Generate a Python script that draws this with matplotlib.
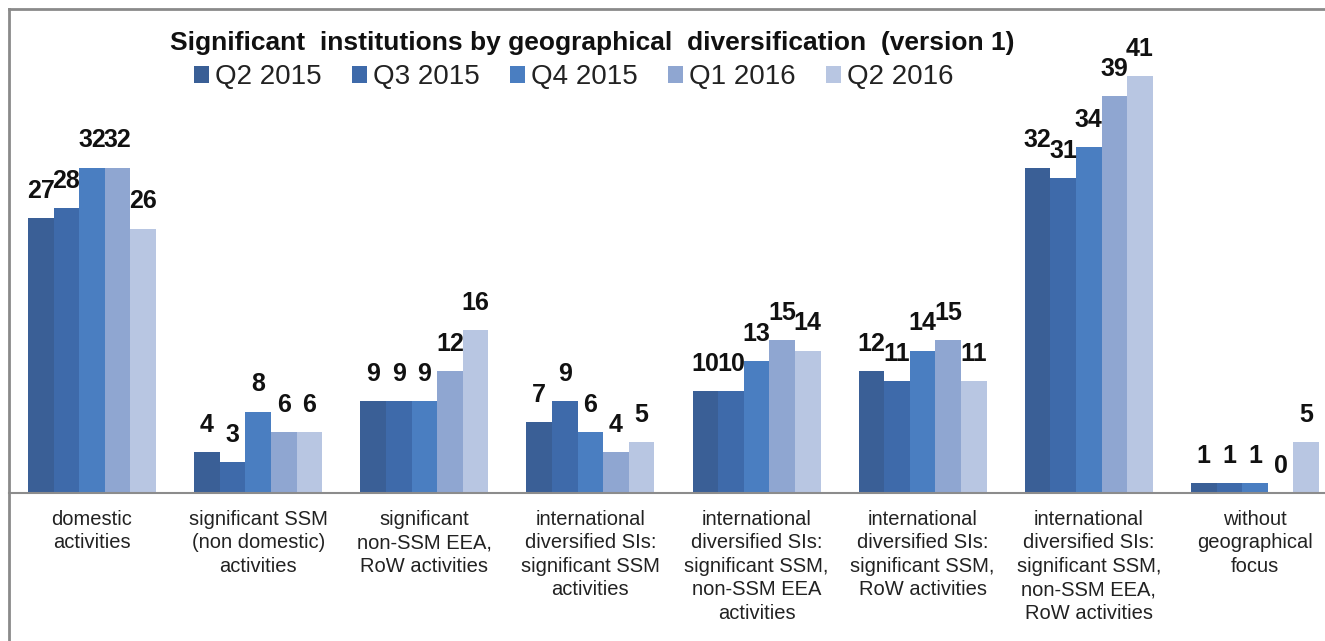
import numpy as np
import matplotlib.pyplot as plt
from matplotlib.lines import Line2D
from matplotlib.patches import Patch

plt.rcParams['font.family'] = ['Liberation Sans', 'DejaVu Sans']

categories = [
    "domestic\nactivities",
    "significant SSM\n(non domestic)\nactivities",
    "significant\nnon-SSM EEA,\nRoW activities",
    "international\ndiversified SIs:\nsignificant SSM\nactivities",
    "international\ndiversified SIs:\nsignificant SSM,\nnon-SSM EEA\nactivities",
    "international\ndiversified SIs:\nsignificant SSM,\nRoW activities",
    "international\ndiversified SIs:\nsignificant SSM,\nnon-SSM EEA,\nRoW activities",
    "without\ngeographical\nfocus",
]
series_names = ["Q2 2015", "Q3 2015", "Q4 2015", "Q1 2016", "Q2 2016"]
q2_2015 = [27, 4, 9, 7, 10, 12, 32, 1]
q3_2015 = [28, 3, 9, 9, 10, 11, 31, 1]
q4_2015 = [32, 8, 9, 6, 13, 14, 34, 1]
q1_2016 = [32, 6, 12, 4, 15, 15, 39, 0]
q2_2016 = [26, 6, 16, 5, 14, 11, 41, 5]
series = [q2_2015, q3_2015, q4_2015, q1_2016, q2_2016]
colors = ["#3A5F96", "#3E6AAA", "#4A7EC1", "#8FA6D1", "#B8C6E2"]

W, H = 1325, 641
fig = plt.figure(figsize=(W / 100, H / 100), dpi=100)
# axes: baseline at y=493 px, left frame at x=9, category pitch ~166 px
ax = fig.add_axes([9 / W, (H - 493) / H, 1329 / W, (493 - 9) / H])

x = np.arange(len(categories))
bw = 0.154
for i, (vals, col, name) in enumerate(zip(series, colors, series_names)):
    pos = x + (i - 2) * bw
    bars = ax.bar(pos, vals, width=bw, color=col, label=name, linewidth=0)
    for b, v in zip(bars, vals):
        ax.annotate(str(v), (b.get_x() + b.get_width() / 2, v),
                    xytext=(0, 11), textcoords="offset points",
                    ha="center", va="bottom", fontsize=18,
                    fontweight="bold", color="#111111")

ax.set_xlim(-0.5, 7.5)
ax.set_ylim(0, 47.6)
ax.set_yticks([])
ax.set_xticks(x)
ax.set_xticklabels(categories, fontsize=14.5, color="#222222", linespacing=1.3)
ax.tick_params(axis="x", length=0, pad=12)
for s in ["top", "right", "left"]:
    ax.spines[s].set_visible(False)
ax.spines["bottom"].set_color("#8c8c8c")
ax.spines["bottom"].set_linewidth(1.5)
ax.patch.set_alpha(0)

# chart frame (top and left edges)
fig.add_artist(Line2D([9 / W, 1.0], [1 - 9 / H, 1 - 9 / H], color="#8a8a8a", lw=2))
fig.add_artist(Line2D([9 / W, 9 / W], [0, 1 - 9 / H], color="#8a8a8a", lw=2))

fig.text(592 / W, 1 - 43 / H,
         "Significant  institutions by geographical  diversification  (version 1)",
         ha="center", va="center", fontsize=19, fontweight="bold", color="#111111")

handles = [Patch(facecolor=c, edgecolor="none") for c in colors]
fig.legend(handles, series_names, loc="center left", bbox_to_anchor=(180 / W, 1 - 77 / H),
           ncol=5, frameon=False, fontsize=20, handlelength=0.55, handleheight=0.55,
           handletextpad=0.2, columnspacing=1.1, borderpad=0, labelcolor="#222222")

fig.savefig("out.png", dpi=100)
